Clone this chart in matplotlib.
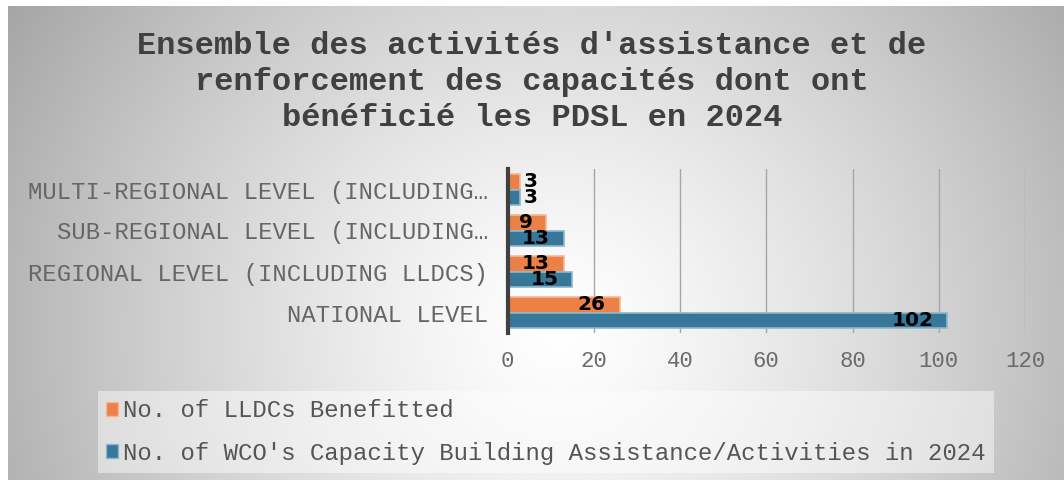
import numpy as np
import matplotlib
matplotlib.use("Agg")
import matplotlib.pyplot as plt
from matplotlib.patches import Patch

# ---- data ----
categories = ["NATIONAL LEVEL",
              "REGIONAL LEVEL (INCLUDING LLDCS)",
              "SUB-REGIONAL LEVEL (INCLUDING…",
              "MULTI-REGIONAL LEVEL (INCLUDING…"]
lldcs_benefitted = [26, 13, 9, 3]
wco_activities = [102, 15, 13, 3]
series_names = ["No. of LLDCs Benefitted",
                "No. of WCO's Capacity Building Assistance/Activities in 2024"]
xticks = [0, 20, 40, 60, 80, 100, 120]
title = "Ensemble des activités d'assistance et de\nrenforcement des capacités dont ont\nbénéficié les PDSL en 2024"

W, H = 1064, 480
fig = plt.figure(figsize=(W / 100, H / 100), dpi=100)
fig.patch.set_facecolor("white")

# ---- background radial gradient ----
bg = fig.add_axes([8 / W, 0, 1 - 8 / W, 1 - 6 / H], zorder=-10)
xx, yy = np.meshgrid(np.linspace(8, W, 400), np.linspace(6, H, 200))
d = np.sqrt(((xx - 560) / 500) ** 2 + ((yy - 330) / 470) ** 2)
c = 1 - 0.25 * d ** 1.3
c = np.clip(c, 0, 1)
img = np.dstack([c, c, c])
bg.imshow(img, aspect="auto", extent=[0, 1, 0, 1], origin="upper", interpolation="bilinear")
bg.set_axis_off()

mono = ["Liberation Mono", "DejaVu Sans Mono"]
orange, blue = "#EC8148", "#36779A"

ax = fig.add_axes([507.5 / W, 1 - 333 / H, (1025 - 507.5) / W, (333 - 169) / H])
ax.patch.set_alpha(0)
y = np.arange(len(categories))
h = 0.375
b1 = ax.barh(y + h / 2, lldcs_benefitted, height=h, color=orange,
             edgecolor="#F5B895", linewidth=1.2, zorder=3, label=series_names[0])
b2 = ax.barh(y - h / 2, wco_activities, height=h, color=blue,
             edgecolor="#8DB7CB", linewidth=1.2, zorder=3, label=series_names[1])

for bars in (b1, b2):
    for rect in bars:
        v = rect.get_width()
        yc = rect.get_y() + rect.get_height() / 2
        if v < 5:
            ax.annotate(f"{v:g}", (v, yc), xytext=(2, 0), textcoords="offset points",
                        ha="left", va="center", fontsize=14.5, fontweight="bold",
                        family="DejaVu Sans", color="black", zorder=5)
        else:
            ax.annotate(f"{v:g}", (v, yc), xytext=(-10, 0), textcoords="offset points",
                        ha="right", va="center", fontsize=14.5, fontweight="bold",
                        family="DejaVu Sans", color="black", zorder=5)

ax.set_xlim(0, 120)
ax.set_ylim(-0.5, len(categories) - 0.5)
ax.set_xticks(xticks)
ax.set_xticklabels([str(t) for t in xticks], family=mono, fontsize=16, color="#6a6a6a")
ax.set_yticks(y)
ax.set_yticklabels(categories, family=mono, fontsize=17.2, color="#666666")
ax.tick_params(axis="both", length=0)
ax.tick_params(axis="x", pad=13)
ax.tick_params(axis="y", pad=14)
ax.grid(axis="x", color="#a6a6a6", linewidth=1, zorder=0)
for s in ("top", "right", "bottom"):
    ax.spines[s].set_visible(False)
ax.spines["left"].set_color("#404040")
ax.spines["left"].set_linewidth(3)
ax.spines["left"].set_zorder(4)

fig.text(532 / W, 1 - 82 / H, title, ha="center", va="center", family=mono,
         fontsize=23, fontweight="bold", color="#404040", linespacing=1.25)

handles = [Patch(facecolor=orange, edgecolor="#F5B895"), Patch(facecolor=blue, edgecolor="#8DB7CB")]
leg = fig.legend(handles, series_names, loc="upper left",
                 bbox_to_anchor=(98 / W, 1 - 391 / H), bbox_transform=fig.transFigure,
                 prop={"family": mono, "size": 17.3}, labelcolor="#555555",
                 handlelength=0.5, handleheight=0.5, handletextpad=0.2,
                 labelspacing=0.8, borderpad=0.35, borderaxespad=0,
                 frameon=True, fancybox=False)
leg.get_frame().set_facecolor("white")
leg.get_frame().set_alpha(0.45)
leg.get_frame().set_edgecolor("none")

fig.savefig("out.png", dpi=100)
